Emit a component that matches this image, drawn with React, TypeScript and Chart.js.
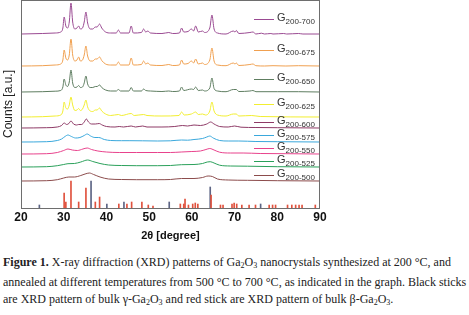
import React, { useEffect, useRef } from "react";
import { Chart, registerables } from "chart.js";
Chart.register(...registerables);

// x axis: 2θ [degree]
const xMin = 20;
const xMax = 90;
const xStep = 10;

// offset intensity traces (arbitrary units, already stacked)
const g700: number[][] = [[20,174],[25,174.5],[28,175],[29.3,176],[29.8,180],[30.1,191],[30.5,182],[30.9,180],[31.3,186],[31.7,205],[32.1,186],[32.6,179],[33.1,180],[33.5,182],[33.9,179],[34.4,180],[34.8,186],[35.2,196],[35.6,185],[36.2,179],[36.8,179],[37.4,181],[37.8,181],[38.4,184],[38.9,180],[39.8,176],[41,175],[42.3,175],[42.8,178],[43.3,175],[45.3,175],[45.8,182],[46.3,175],[48.2,175.5],[48.7,179],[49.2,176],[49.7,177],[50.3,175],[53,174.5],[54.6,175.5],[55.5,174.5],[57.1,175],[57.6,180],[58.1,176],[59.1,176.5],[59.9,179],[60.4,177],[60.9,182],[61.5,176],[62.5,177],[63,175.5],[64.2,180],[64.7,193],[65.2,179],[66,175],[68,174],[69.7,177],[70.1,176],[70.4,177.5],[71,174.5],[73.6,175.5],[74.3,176],[75,174],[76.3,174.8],[77,174],[78.5,174.5],[79,174],[81.5,174.5],[82.2,174],[85,174.5],[86,174],[90,174]];
const g675: number[][] = [[20,142],[25,142.3],[28,143],[29.3,144],[29.8,148],[30.1,158],[30.5,150],[30.9,148],[31.3,153],[31.7,169],[32.1,153],[32.6,147],[33.1,148],[33.5,151],[33.9,147],[34.4,148],[34.8,153],[35.2,162],[35.6,152],[36.2,147],[36.8,147],[37.4,149],[37.8,149],[38.4,151],[38.9,147.5],[39.8,144],[41,143],[42.3,143],[42.8,146],[43.3,143],[45.3,143],[45.8,150],[46.3,143],[48.2,143.5],[48.7,147],[49.2,144],[49.7,145],[50.3,143],[53,142.5],[54.6,143.5],[55.5,142.5],[57.1,143],[57.6,148],[58.1,144],[59.1,144.5],[59.9,147],[60.4,145],[60.9,149],[61.5,144],[62.5,145],[63,143.5],[64.2,148],[64.7,160],[65.2,147],[66,143],[68,142.3],[69.7,145],[70.1,144],[70.4,145],[71,142.5],[73.6,143.5],[74.3,144],[75,142.3],[77,142],[79,142.3],[82,142],[85,142.3],[90,142]];
const g650: number[][] = [[20,116],[25,116.3],[28,116.8],[29.3,117.5],[29.8,121],[30.1,129],[30.5,123],[30.9,121.5],[31.3,126],[31.7,138],[32.1,125],[32.6,120.5],[33.1,121],[33.5,122.5],[33.9,120.5],[34.4,121],[34.8,125],[35.2,132],[35.6,124],[36.2,120.5],[36.8,120.5],[37.4,121.5],[37.8,121.5],[38.4,123],[38.9,120.5],[39.8,118],[41,117],[42.3,117],[42.8,118.5],[43.3,117],[45.3,117],[45.8,120.5],[46.3,117],[48.2,117],[48.7,119],[49.2,117.5],[50.3,117],[53,116.5],[54.6,117],[55.5,116.5],[57.1,117],[57.6,121],[58.1,117.5],[59.9,119],[60.4,118.5],[60.9,121],[61.5,117.5],[62.5,118],[63,117],[64.2,120],[64.7,130],[65.2,119.5],[66,117],[68,116.3],[69.7,118.5],[70.4,118.5],[71,116.5],[73.6,117],[74.3,117.5],[75,116.3],[80,116.3],[85,116.3],[90,116]];
const g625: number[][] = [[20,91],[25,91.3],[28,92],[29.3,93],[29.8,97],[30.1,106],[30.5,100],[30.9,99],[31.3,103],[31.7,111],[32.1,103],[32.6,97.5],[33.1,98],[33.5,99.5],[33.9,97.5],[34.4,99],[34.8,103],[35.2,108],[35.6,101],[36.2,97],[36.8,96.5],[37.4,98],[37.8,98],[38.4,100],[38.9,97],[39.8,94],[41,92.5],[42.8,93.5],[43.5,92.5],[45.8,94.5],[46.5,92.5],[48.7,93.5],[49.5,92.5],[53,92],[57,92.5],[57.6,96],[58.2,93],[59.9,94],[60.9,96],[61.5,93.5],[62.5,94],[63.2,93],[64.2,97],[64.7,106],[65.2,97],[66,93],[68,92],[69.7,94],[70.4,94],[71,92],[74,92.5],[76,91.5],[90,91]];
const g600: number[][] = [[20,80],[26,80.3],[28.5,81],[29.5,82.5],[30.1,85],[30.7,83.5],[31.2,84.5],[31.7,87],[32.3,84],[33,83],[33.5,83.5],[34.2,83.5],[34.8,86],[35.3,89],[35.8,86],[36.5,84],[37.4,84],[38.3,84.5],[39,83],[40,81.5],[42,81],[43,81.5],[44,81],[45.8,82],[46.8,81],[48.5,82],[49.5,81],[53,81],[56,81.5],[57.8,82.5],[59,82],[60.5,83],[62,82.5],[63.5,84],[64.4,86],[65.2,84],[66.5,81.5],[68.5,81],[70,82],[71.5,80.8],[75,80.5],[80,80.3],[90,80]];
const g575: number[][] = [[20,66],[26,66.3],[28.5,67.5],[29.5,69],[30.3,71.5],[31,73],[31.8,71.5],[32.8,70],[33.8,70.5],[34.8,72.5],[35.5,74],[36.3,72],[37.3,70.5],[38.2,70.5],[39.5,68.5],[41,67.5],[43.5,67.3],[45.5,67.3],[48.5,67.2],[52,67],[55,67.2],[57.6,68],[59,67.8],[60.5,68.5],[62.5,69.5],[63.5,71],[64.2,72],[65,70],[66.5,67.5],[68.5,67],[71,67],[75,66.5],[80,66.3],[90,66]];
const g550: number[][] = [[20,54],[26,54.3],[28.5,55.5],[30,57.5],[31,59],[32,58],[33.2,57.5],[34.5,59],[35.5,60],[36.5,58.5],[38,57],[40,56],[43,55.5],[47,55.5],[52,55.5],[55,55.5],[57.5,56],[60,56.5],[62,57],[63.3,58.5],[64.2,59.5],[65.2,58],[66.5,55.8],[69,55],[72,55],[76,54.5],[82,54.3],[90,54]];
const g525: number[][] = [[20,41],[26,41.3],[28.5,42.3],[30,43.5],[31,44.3],[32.5,44.5],[34,46],[35.6,48],[36.8,46.5],[38.5,44.5],[40.5,43],[43.5,42.5],[47,42.3],[52,42.3],[55,42.5],[57.6,43.3],[60.5,43.5],[62.5,44.5],[63.6,46],[64.3,46.3],[65.2,45],[66.5,42.8],[69,42],[73,41.8],[80,41.3],[90,41]];
const g500: number[][] = [[20,27],[26,27.3],[28.5,28.3],[30,30],[31.2,31],[32.5,31],[34,32.5],[35,34],[36,35],[37,33.5],[38.5,31],[40.5,29],[43.5,28.5],[47,28.3],[52,28.3],[55,28.5],[57.6,29.5],[60.5,29.5],[62.5,30.5],[63.8,32],[64.8,31.5],[66,29],[68.5,28],[73,27.7],[80,27.3],[90,27]];

const seriesData = [g700, g675, g650, g625, g600, g575, g550, g525, g500];
const seriesSub = ["200-700", "200-675", "200-650", "200-625", "200-600", "200-575", "200-550", "200-525", "200-500"];
const seriesColors = ["#9a4a92", "#f0a050", "#5e7d60", "#f2ee30", "#8e3a66", "#3aa8dc", "#e8428c", "#2aa05a", "#8c4c4c"];

// reference stick patterns
const betaPos = [30.1, 30.5, 31.7, 33.5, 35.2, 37.4, 38.4, 42.9, 44.8, 45.9, 48.3, 49.8, 50.9, 57.3, 58.1, 58.4, 59.2, 60.2, 60.8, 61.4, 64.5, 66.7, 67.3, 69.4, 69.9, 70.5, 71.7, 73.4, 74.9, 78.1, 78.9, 79.6, 82.4, 83.4, 84.3, 85.1, 85.8, 88.9];
const betaHeight = [15, 6, 27, 6, 20, 6, 11, 4, 4, 6, 6, 3, 2, 4, 4, 9, 3, 4, 5, 4, 13, 3, 3, 4, 5, 4, 3, 3, 3, 3, 3, 3, 3, 3, 3, 3, 3, 3];
const gammaPos = [24.3, 36.4, 40.1, 44.1, 54.7, 64.3, 76.1];
const gammaHeight = [3, 27, 4, 6, 6, 21, 4];

const framePlugin = {
  id: "frame",
  afterDraw(chart: any) {
    const { ctx, chartArea } = chart;
    ctx.save();
    ctx.strokeStyle = "#6e6e6e";
    ctx.lineWidth = 1;
    ctx.strokeRect(chartArea.left + 0.5, chartArea.top + 0.5, chartArea.right - chartArea.left - 1, chartArea.bottom - chartArea.top);
    ctx.restore();
  },
};

export default function App() {
  const ref = useRef<HTMLCanvasElement>(null);
  useEffect(() => {
    document.body.style.margin = "0";
    const datasets: any[] = seriesData.map((d, i) => ({
      type: "line",
      label: "G" + seriesSub[i],
      data: d.map(([x, y]) => ({ x, y })),
      borderColor: seriesColors[i],
      borderWidth: 1,
      pointRadius: 0,
      cubicInterpolationMode: "monotone",
      fill: false,
    }));
    datasets.push({
      type: "bar",
      label: "beta",
      data: betaPos.map((x, i) => ({ x, y: betaHeight[i] })),
      backgroundColor: "#e0523e",
      barThickness: 1,
      grouped: false,
    });
    datasets.push({
      type: "bar",
      label: "gamma",
      data: gammaPos.map((x, i) => ({ x, y: gammaHeight[i] })),
      backgroundColor: "#5d6585",
      barThickness: 1,
      grouped: false,
    });
    const chart = new Chart(ref.current!, {
      type: "line",
      data: { datasets },
      options: {
        animation: false,
        responsive: false,
        devicePixelRatio: 1,
        layout: { padding: { top: 0, right: 149, left: 0, bottom: 0 } },
        plugins: { legend: { display: false }, tooltip: { enabled: false } },
        scales: {
          x: {
            type: "linear",
            min: xMin,
            max: xMax,
            offset: false,
            grid: { display: false, drawTicks: false },
            border: { display: false },
            ticks: { stepSize: xStep, padding: 2, color: "#111", font: { family: "Arial, 'Liberation Sans'", size: 12, weight: "bold" } },
            title: { display: true, text: "2θ [degree]", color: "#111", font: { family: "Arial, 'Liberation Sans'", size: 11, weight: "bold" }, padding: { top: 0, bottom: 7 } },
            afterFit: (s: any) => { s.height = 42; },
          },
          y: {
            min: 0,
            max: 208,
            grid: { display: false, drawTicks: false },
            border: { display: false },
            ticks: { display: false },
            title: { display: true, text: "Counts [a.u.]", color: "#222", font: { family: "Arial, 'Liberation Sans'", size: 12 }, padding: { top: 1, bottom: 0 } },
            afterFit: (s: any) => { s.width = 21; },
          },
        },
      },
      plugins: [framePlugin],
    });
    return () => chart.destroy();
  }, []);

  const legendY = [19, 50, 79, 104, 122, 135, 148, 161, 175];

  return (
    <div style={{ position: "relative", width: 469, height: 315, background: "#fff", overflow: "hidden" }}>
      <canvas ref={ref} width={469} height={250} style={{ position: "absolute", left: 0, top: 0 }} />
      {seriesSub.map((s, i) => (
        <div key={s} style={{ position: "absolute", left: 254, top: legendY[i] - 7, height: 14, display: "flex", alignItems: "center", whiteSpace: "nowrap" }}>
          <div style={{ width: 20, height: 1, background: seriesColors[i] }} />
          <span style={{ marginLeft: 3, fontFamily: "Arial, 'Liberation Sans'", fontSize: 11, color: "#333", lineHeight: "14px" }}>
            G<sub style={{ fontSize: 8, verticalAlign: "-3px" }}>{s}</sub>
          </span>
        </div>
      ))}
      <div style={{ position: "absolute", left: 3, top: 254, fontFamily: "'Times New Roman', 'Liberation Serif', serif", fontSize: 12, lineHeight: "17px", color: "#222", whiteSpace: "nowrap" }}>
        <div><b>Figure 1.</b> X-ray diffraction (XRD) patterns of Ga<sub style={{ fontSize: 8, verticalAlign: "-2px" }}>2</sub>O<sub style={{ fontSize: 8, verticalAlign: "-2px" }}>3</sub> nanocrystals synthesized at 200 °C, and</div>
        <div>annealed at different temperatures from 500 °C to 700 °C, as indicated in the graph. Black sticks</div>
        <div>are XRD pattern of bulk γ-Ga<sub style={{ fontSize: 8, verticalAlign: "-2px" }}>2</sub>O<sub style={{ fontSize: 8, verticalAlign: "-2px" }}>3</sub> and red stick are XRD pattern of bulk β-Ga<sub style={{ fontSize: 8, verticalAlign: "-2px" }}>2</sub>O<sub style={{ fontSize: 8, verticalAlign: "-2px" }}>3</sub>.</div>
      </div>
    </div>
  );
}
